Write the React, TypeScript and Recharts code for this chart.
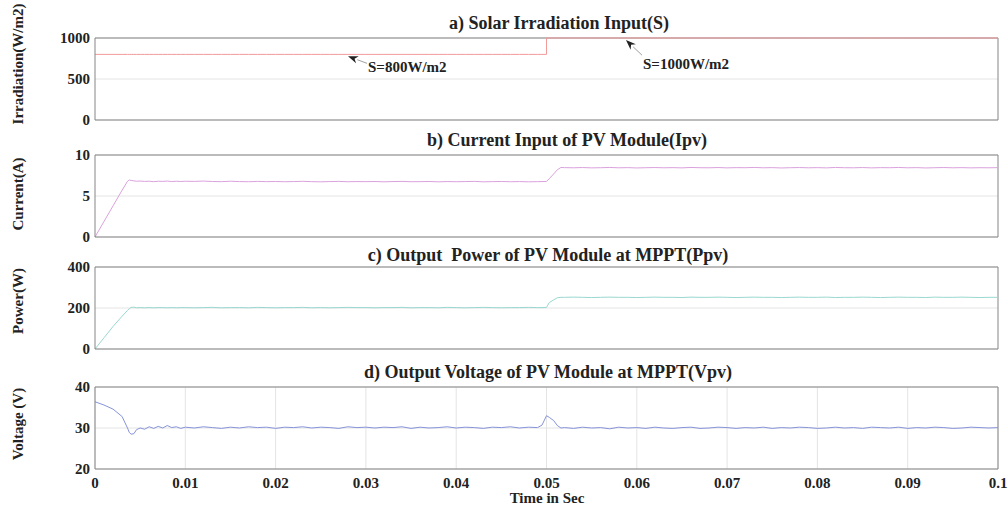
import React from "react";
import {
  LineChart,
  Line,
  XAxis,
  YAxis,
  CartesianGrid,
  ReferenceLine,
} from "recharts";

const FONT = '"Liberation Serif", "Times New Roman", Times, serif';

// simulation time (s)
const time = [
  0, 0.001, 0.002, 0.003, 0.0036, 0.0038, 0.004, 0.0043, 0.0046, 0.005,
  0.0055, 0.006, 0.0065, 0.007, 0.0075, 0.008, 0.0085, 0.009, 0.0095,
  0.01, 0.011, 0.012, 0.013, 0.014, 0.015, 0.016, 0.017, 0.018, 0.019,
  0.02, 0.021, 0.022, 0.023, 0.024, 0.025, 0.026, 0.027, 0.028, 0.029,
  0.03, 0.031, 0.032, 0.033, 0.034, 0.035, 0.036, 0.037, 0.038, 0.039,
  0.04, 0.041, 0.042, 0.043, 0.044, 0.045, 0.046, 0.047, 0.048, 0.049,
  0.0495, 0.05, 0.0503, 0.0508, 0.0512, 0.0516,
  0.052, 0.053, 0.054, 0.055, 0.056, 0.057, 0.058, 0.059,
  0.06, 0.061, 0.062, 0.063, 0.064, 0.065, 0.066, 0.067, 0.068, 0.069,
  0.07, 0.071, 0.072, 0.073, 0.074, 0.075, 0.076, 0.077, 0.078, 0.079,
  0.08, 0.081, 0.082, 0.083, 0.084, 0.085, 0.086, 0.087, 0.088, 0.089,
  0.09, 0.091, 0.092, 0.093, 0.094, 0.095, 0.096, 0.097, 0.098, 0.099,
  0.1,
];

// a) solar irradiation S (W/m2)
const irradiation = [
  800, 800, 800, 800, 800, 800, 800, 800, 800, 800,
  800, 800, 800, 800, 800, 800, 800, 800, 800,
  800, 800, 800, 800, 800, 800, 800, 800, 800, 800,
  800, 800, 800, 800, 800, 800, 800, 800, 800, 800,
  800, 800, 800, 800, 800, 800, 800, 800, 800, 800,
  800, 800, 800, 800, 800, 800, 800, 800, 800, 800,
  800, 1000, 1000, 1000, 1000, 1000,
  1000, 1000, 1000, 1000, 1000, 1000, 1000, 1000,
  1000, 1000, 1000, 1000, 1000, 1000, 1000, 1000, 1000, 1000,
  1000, 1000, 1000, 1000, 1000, 1000, 1000, 1000, 1000, 1000,
  1000, 1000, 1000, 1000, 1000, 1000, 1000, 1000, 1000, 1000,
  1000, 1000, 1000, 1000, 1000, 1000, 1000, 1000, 1000, 1000,
  1000,
];

// b) PV current Ipv (A)
const current = [
  0, 1.9, 3.8, 5.7, 6.8, 6.95, 6.9, 6.85, 6.8, 6.82,
  6.78, 6.8, 6.75, 6.8, 6.78, 6.82, 6.76, 6.8, 6.77,
  6.8, 6.78, 6.82, 6.77, 6.75, 6.8, 6.76, 6.74, 6.78, 6.75,
  6.77, 6.74, 6.76, 6.79, 6.75, 6.73, 6.76, 6.78, 6.74, 6.76,
  6.75, 6.77, 6.73, 6.76, 6.78, 6.74, 6.75, 6.77, 6.73, 6.76,
  6.74, 6.76, 6.78, 6.73, 6.75, 6.77, 6.74, 6.76, 6.73, 6.75,
  6.76, 6.78, 7.1, 7.7, 8.2, 8.48,
  8.46, 8.44, 8.47, 8.43, 8.45, 8.48, 8.44, 8.46,
  8.42, 8.45, 8.47, 8.44, 8.46, 8.43, 8.48, 8.45, 8.44, 8.47,
  8.43, 8.46, 8.45, 8.48, 8.44, 8.46, 8.42, 8.45, 8.47, 8.44,
  8.46, 8.43, 8.48, 8.45, 8.44, 8.47, 8.43, 8.46, 8.45, 8.48,
  8.44, 8.46, 8.42, 8.45, 8.47, 8.44, 8.46, 8.43, 8.45, 8.44,
  8.46,
];

// c) PV power Ppv (W)
const power = [
  0, 55, 110, 160, 188, 197, 203, 204, 201, 202,
  201, 202, 201, 202, 202, 201, 202, 201, 202,
  202, 201, 202, 203, 201, 202, 202, 201, 203, 202,
  201, 202, 202, 203, 201, 202, 201, 202, 203, 202,
  202, 201, 202, 202, 203, 201, 202, 202, 201, 203,
  202, 201, 202, 203, 202, 201, 202, 202, 203, 202,
  202, 203, 226, 240, 250, 252,
  252, 253, 252, 251, 252, 253, 252, 252,
  251, 252, 253, 252, 252, 251, 253, 252, 252, 253,
  252, 251, 252, 253, 252, 252, 251, 252, 253, 252,
  252, 253, 251, 252, 252, 253, 252, 251, 252, 253,
  252, 252, 251, 253, 252, 252, 253, 252, 251, 252,
  252,
];

// d) PV voltage Vpv (V)
const voltage = [
  36.4, 35.6, 34.6, 32.8, 30.0, 28.9, 28.5, 28.6, 29.6, 30.0,
  29.7, 30.3, 29.9, 30.4, 30.0, 30.6, 30.1, 30.3, 29.9,
  30.2, 30.0, 30.3, 30.1, 29.9, 30.2, 30.0, 30.3, 30.1, 30.2,
  29.9, 30.2, 30.1, 30.3, 30.0, 30.2, 30.1, 29.9, 30.3, 30.1,
  30.2, 30.0, 30.2, 30.1, 30.3, 29.9, 30.2, 30.0, 30.1, 30.3,
  30.0, 30.2, 30.1, 29.9, 30.2, 30.1, 30.3, 30.0, 30.2, 30.1,
  30.7, 33.0, 32.6, 31.8, 30.6, 30.0,
  30.1, 29.9, 30.2, 30.0, 30.1, 29.8, 30.2, 30.0,
  30.1, 29.9, 30.2, 30.0, 29.9, 30.1, 30.2, 29.9, 30.0, 30.2,
  30.1, 29.9, 30.1, 30.0, 30.2, 29.9, 30.1, 30.0, 30.2, 30.1,
  29.9, 30.0, 30.2, 30.0, 30.1, 29.9, 30.2, 30.1, 30.0, 30.2,
  29.9, 30.1, 30.0, 30.2, 30.1, 29.9, 30.0, 30.2, 30.1, 30.0,
  30.1,
];

const xTicks = [0, 0.01, 0.02, 0.03, 0.04, 0.05, 0.06, 0.07, 0.08, 0.09, 0.1];

const rows = time.map((t, i) => ({
  t,
  s: irradiation[i],
  ipv: current[i],
  ppv: power[i],
  vpv: voltage[i],
}));

const FRAME = "#858585";
const GRID = "#e4e4e4";
const tickStyle = { fontFamily: FONT, fontWeight: 700, fontSize: 15, fill: "#222" };

// arrow drawn from segment[0] (tip) back to segment[1] (tail)
const Arrow = (props: any) => {
  const { x1, y1, x2, y2 } = props;
  const dx = x1 - x2;
  const dy = y1 - y2;
  const len = Math.sqrt(dx * dx + dy * dy) || 1;
  const ux = dx / len;
  const uy = dy / len;
  const L = 10;
  const W = 3.8;
  const bx = x1 - ux * L;
  const by = y1 - uy * L;
  const pts = [
    [x1, y1],
    [bx - uy * W, by + ux * W],
    [x1 - ux * L * 0.7, y1 - uy * L * 0.7],
    [bx + uy * W, by - ux * W],
  ]
    .map((p) => p.join(","))
    .join(" ");
  return (
    <g>
      <line x1={x2} y1={y2} x2={bx} y2={by} stroke="#a0a0a0" strokeWidth={1} />
      <polygon points={pts} fill="#222" />
    </g>
  );
};

interface PanelProps {
  top: number;
  dataKey: string;
  color: string;
  domain: [number, number];
  ticks: number[];
  isLast?: boolean;
  step?: boolean;
  children?: React.ReactNode;
}

const PAD = 10;

const Panel: React.FC<PanelProps> = ({ top, dataKey, color, domain, ticks, isLast, step, children }) => {
  const plotH = 82;
  const xH = isLast ? 32 : 1;
  const bottom = isLast ? 0 : PAD;
  const height = PAD + plotH + xH + bottom;
  return (
    <div style={{ position: "absolute", left: 0, top: top - PAD }}>
      <LineChart
        width={1008}
        height={height}
        data={rows}
        margin={{ top: PAD, right: 10, bottom, left: 0 }}
      >
        <CartesianGrid stroke={GRID} vertical={!!isLast} />
        <XAxis
          dataKey="t"
          type="number"
          domain={[0, 0.1]}
          ticks={xTicks}
          interval={0}
          height={xH}
          tick={isLast ? tickStyle : false}
          tickLine={false}
          tickSize={0}
          tickMargin={8}
          axisLine={{ stroke: FRAME }}
          tickFormatter={(v: number) => String(v)}
        />
        <YAxis
          type="number"
          domain={domain}
          ticks={ticks}
          interval={0}
          width={95}
          tick={tickStyle}
          tickLine={false}
          tickSize={0}
          tickMargin={5}
          axisLine={{ stroke: FRAME }}
        />
        <ReferenceLine y={domain[1]} stroke={FRAME} />
        <ReferenceLine x={0.1} stroke={FRAME} />
        <Line
          dataKey={dataKey}
          type={step ? "stepAfter" : "linear"}
          stroke={color}
          strokeWidth={1}
          dot={false}
          isAnimationActive={false}
        />
        {children}
      </LineChart>
    </div>
  );
};

const Txt: React.FC<{ x: number; y: number; size?: number; rotate?: boolean; left?: boolean; children: React.ReactNode }> = ({
  x,
  y,
  size = 15,
  rotate,
  left,
  children,
}) => (
  <div
    style={{
      position: "absolute",
      left: x,
      top: y,
      transform: `translate(${left ? "0" : "-50%"}, -50%)${rotate ? " rotate(-90deg)" : ""}`,
      fontFamily: FONT,
      fontWeight: 700,
      fontSize: size,
      color: "#222",
      whiteSpace: "nowrap",
      lineHeight: 1,
    }}
  >
    {children}
  </div>
);

export default function App() {
  return (
    <div style={{ position: "absolute", left: 0, top: 0, width: 1008, height: 508, background: "#fff", overflow: "hidden" }}>
      <Panel top={38} dataKey="s" color="#f39a9a" domain={[0, 1000]} ticks={[0, 500, 1000]} step>
        <ReferenceLine segment={[{ x: 0.02802, y: 778 }, { x: 0.03012, y: 691 }]} shape={Arrow} />
        <ReferenceLine segment={[{ x: 0.0588, y: 975 }, { x: 0.06058, y: 790 }]} shape={Arrow} />
      </Panel>
      <Panel top={155} dataKey="ipv" color="#dba2de" domain={[0, 10]} ticks={[0, 5, 10]} />
      <Panel top={267} dataKey="ppv" color="#9ad8cf" domain={[0, 400]} ticks={[0, 200, 400]} />
      <Panel top={387} dataKey="vpv" color="#8794da" domain={[20, 40]} ticks={[20, 30, 40]} isLast />

      <Txt x={559} y={23} size={18}>a) Solar Irradiation Input(S)</Txt>
      <Txt x={567} y={140} size={18}>b) Current Input of PV Module(Ipv)</Txt>
      <Txt x={548} y={255} size={18}>c) Output&nbsp; Power of PV Module at MPPT(Ppv)</Txt>
      <Txt x={548} y={372} size={18}>d) Output Voltage of PV Module at MPPT(Vpv)</Txt>

      <Txt x={18} y={64} rotate>Irradiation(W/m2)</Txt>
      <Txt x={18} y={194} rotate>Current(A)</Txt>
      <Txt x={18} y={301} rotate>Power(W)</Txt>
      <Txt x={18} y={424} rotate>Voltage (V)</Txt>

      <Txt x={368} y={67} left>S=800W/m2</Txt>
      <Txt x={643} y={64} left>S=1000W/m2</Txt>

      <Txt x={547} y={498}>Time in Sec</Txt>
    </div>
  );
}
